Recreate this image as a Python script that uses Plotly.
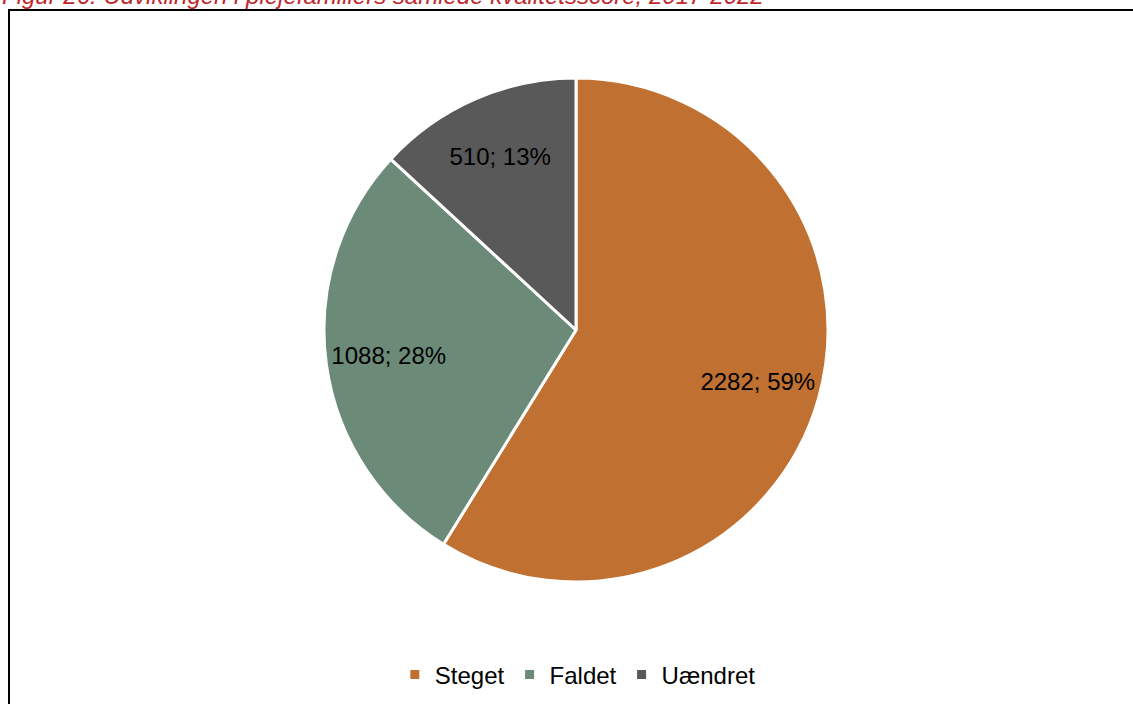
import plotly.graph_objects as go

W, H = 1133, 704

# data
categories = ["Steget", "Faldet", "Uændret"]
values = [2282, 1088, 510]
colors = ["#C07030", "#6B8A78", "#595959"]
title_text = "Figur 26: Udviklingen i plejefamiliers samlede kvalitetsscore, 2017-2022"

FONT = "Liberation Sans, Arial"
pie_domain = dict(x=[324 / W, 828 / W], y=[1 - 582 / H, 1 - 78 / H])

fig = go.Figure()

# the coloured slices
fig.add_trace(go.Pie(
    labels=categories,
    values=values,
    sort=False,
    direction="clockwise",
    rotation=0,
    marker=dict(colors=colors, line=dict(color="white", width=3)),
    textinfo="none",
    domain=pie_domain,
    hoverinfo="label+value+percent",
))

# transparent ring on top, only to push the data labels outwards like Excel does
fig.add_trace(go.Pie(
    labels=categories,
    values=values,
    sort=False,
    direction="clockwise",
    rotation=0,
    hole=0.5,
    marker=dict(colors=["rgba(0,0,0,0)"] * 3, line=dict(width=0)),
    texttemplate="%{value}; %{percent:.0%}",
    textposition="inside",
    insidetextorientation="horizontal",
    textfont=dict(family=FONT, size=24, color="black"),
    domain=pie_domain,
    showlegend=False,
    hoverinfo="skip",
))

fig.update_layout(
    width=W,
    height=H,
    margin=dict(l=0, r=0, t=0, b=0),
    paper_bgcolor="white",
    plot_bgcolor="white",
    font=dict(family=FONT, size=24, color="black"),
    legend=dict(
        orientation="h",
        x=0.51, xanchor="center",
        y=1 - 675 / H, yanchor="middle",
        font=dict(size=24),
        itemwidth=30,
    ),
    # frame around the chart
    shapes=[dict(
        type="rect", xref="paper", yref="paper",
        x0=9 / W, x1=1.02, y0=-0.02, y1=1 - 10 / H,
        line=dict(color="black", width=2),
    )],
    # figure caption, cut at the top edge as in the source
    annotations=[dict(
        text=title_text,
        xref="paper", yref="paper",
        x=0.0, xanchor="left",
        y=1, yanchor="bottom", yshift=-11,
        showarrow=False,
        font=dict(family=FONT, size=24, color="#C0282D", style="italic"),
    )],
)

# drop the default 8px page margin so the figure sits at the window corner
fig.write_html("out.html", config={"displayModeBar": False},
               post_script="document.body.style.margin='0';")
